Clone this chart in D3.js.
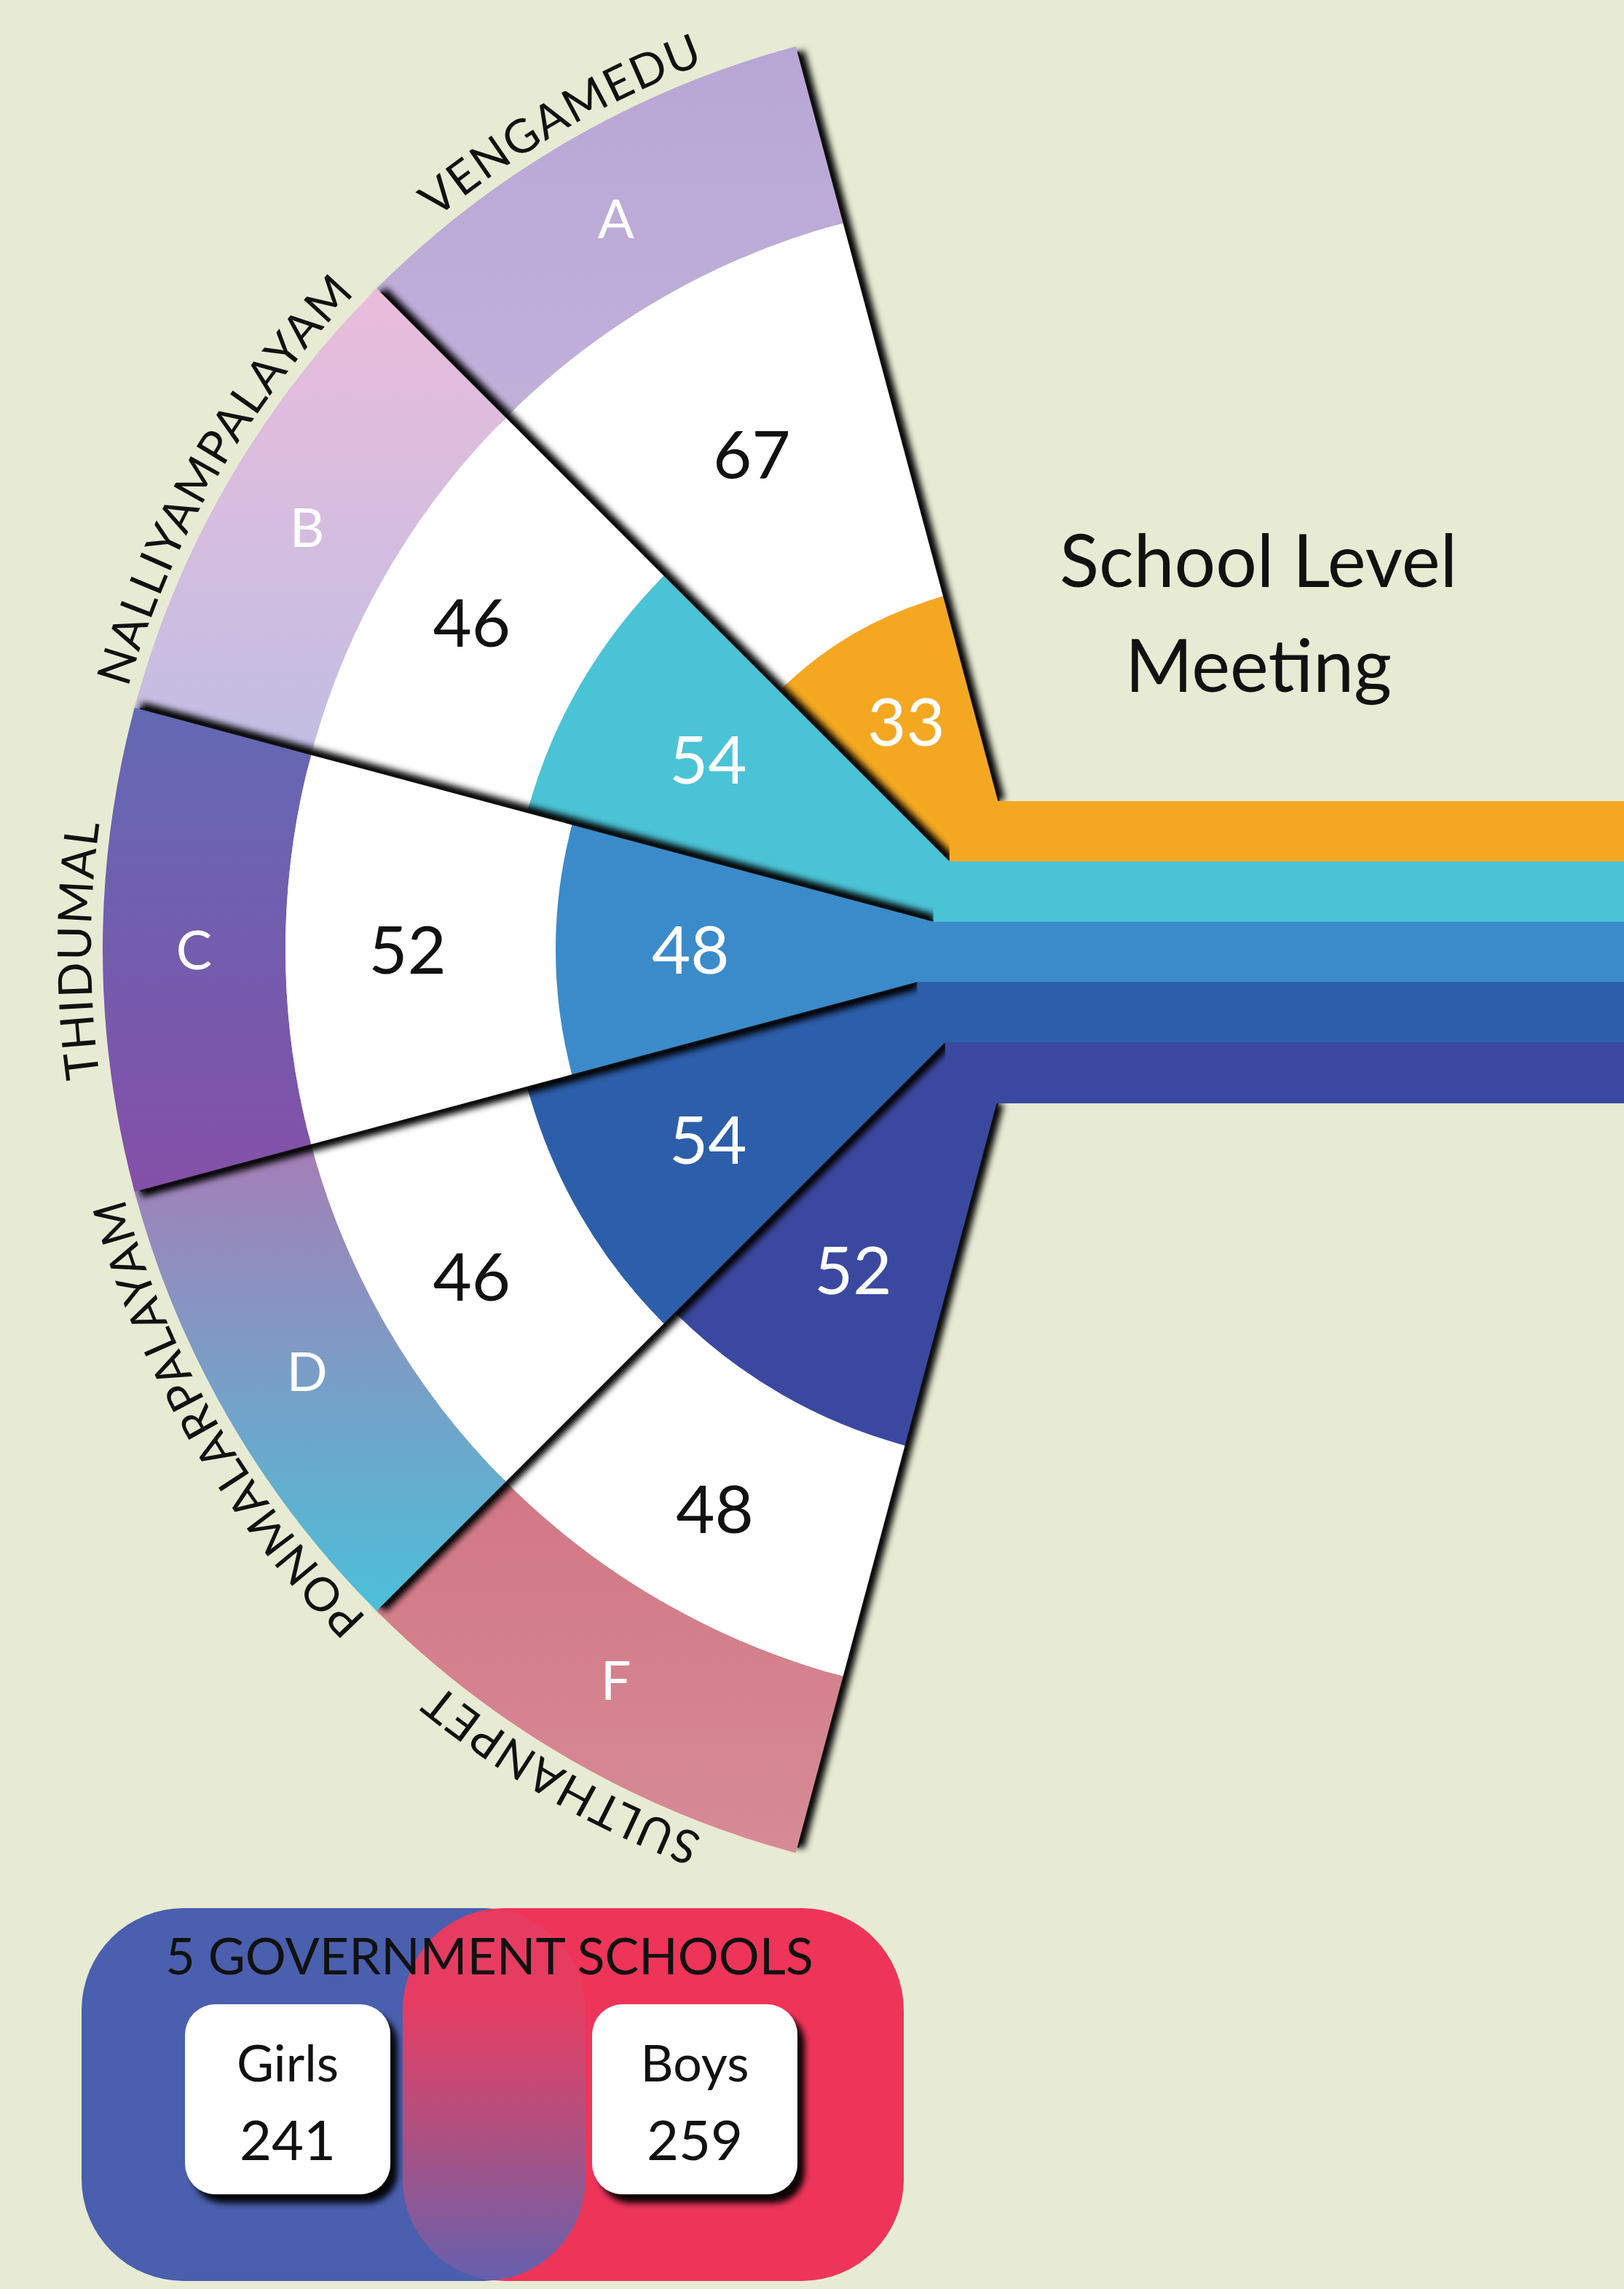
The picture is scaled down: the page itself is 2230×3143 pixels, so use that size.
<!DOCTYPE html>
<html>
<head>
<meta charset="utf-8">
<title>School Level Meeting</title>
<script src="https://d3js.org/d3.v7.min.js"></script>
<style>
  body { margin: 0; background: #e8ebd3; }
  svg { display: block; font-family: Lato, 'Open Sans', sans-serif; }
</style>
</head>
<body>
<svg id="viz"></svg>
<script>
// ---- data ----
var schools  = ["A", "B", "C", "D", "F"];
var villages = ["VENGAMEDU", "NALLIYAMPALAYAM", "THIDUMAL", "PONMALARPALAYAM", "SULTHANPET"];
var boys     = [67, 46, 52, 46, 48];   // white ring
var girls    = [33, 54, 48, 54, 52];   // coloured core + stripes
var totalLabels = ["Girls", "Boys"];
var totalValues = [241, 259];
var legendTitle = "5 GOVERNMENT SCHOOLS";
var titleLines  = ["School Level", "Meeting"];

// ---- colours ----
var background = "#e8ebd3";
var bandTop    = ["#b8a6d4", "#eabcdb", "#6369b4", "#a67eb6", "#d27786"];
var bandBottom = ["#c0b1db", "#c1bee3", "#8450a8", "#4bbfd8", "#d68b94"];
var coreColors = ["#f4a822", "#4bc3d6", "#3b8bca", "#2c5eaa", "#3b48a0"];

var W = 2230, H = 3143;
var cx = 1425, cy = 1304, R = 1284, rBand = 1033;
var deg = Math.PI / 180;

var svg = d3.select("#viz").attr("width", W).attr("height", H);
svg.append("rect").attr("width", W).attr("height", H).attr("fill", background);

var defs = svg.append("defs");
defs.append("filter").attr("id", "edgeBlur")
    .attr("filterUnits", "userSpaceOnUse")
    .attr("x", 0).attr("y", 0).attr("width", W).attr("height", H)
  .append("feGaussianBlur").attr("stdDeviation", 5);

var boxShadow = defs.append("filter").attr("id", "boxShadow")
    .attr("x", "-20%").attr("y", "-20%").attr("width", "150%").attr("height", "150%");
boxShadow.append("feDropShadow").attr("dx", 10).attr("dy", 12)
    .attr("stdDeviation", 4).attr("flood-color", "#000").attr("flood-opacity", 0.95);

schools.forEach(function(s, i) {
  var lg = defs.append("linearGradient").attr("id", "band" + i)
      .attr("x1", 0).attr("y1", 0).attr("x2", 0).attr("y2", 1);
  lg.append("stop").attr("offset", "0%").attr("stop-color", bandTop[i]);
  lg.append("stop").attr("offset", "100%").attr("stop-color", bandBottom[i]);
});

var lens = defs.append("linearGradient").attr("id", "lens")
    .attr("x1", 0).attr("y1", 0).attr("x2", 0).attr("y2", 1);
lens.append("stop").attr("offset", "25%").attr("stop-color", "#e63c62");
lens.append("stop").attr("offset", "60%").attr("stop-color", "#b0507f");
lens.append("stop").attr("offset", "100%").attr("stop-color", "#6660ae");

// ---- scales ----
var angle   = d3.scaleBand().domain(schools).range([345 * deg, 195 * deg]);
var coreR   = d3.scaleLinear().domain([33, 54]).range([502, 726]);
var stripeY = d3.scaleBand().domain(schools).range([1100, 1514]);

var rows = schools.map(function(s, i) {
  return {
    school: s, village: villages[i], boys: boys[i], girls: girls[i], i: i,
    a0: angle(s), a1: angle(s) + angle.bandwidth(),
    y0: stripeY(s), y1: stripeY(s) + stripeY.bandwidth()
  };
});

function edgeR(phi, y) { return (cy - y) / Math.cos(phi); }
function edgeX(phi, y) { return cx + edgeR(phi, y) * Math.sin(phi); }
function polar(r, phi) { return [cx + r * Math.sin(phi), cy - r * Math.cos(phi)]; }
var arc = d3.arc();

// ---- fan: wedges stacked so the middle one sits on top ----
var fan = svg.append("g");
["A", "F", "B", "D", "C"].forEach(function(s) {
  var d = rows[schools.indexOf(s)];
  var g = fan.append("g");

  // soft dark shadow along both straight edges, mostly hidden under the wedge itself
  [[d.a1, d.y0], [d.a0, d.y1]].forEach(function(e) {
    var p0 = polar(edgeR(e[0], e[1]), e[0]), p1 = polar(R - 8, e[0]);
    g.append("line")
      .attr("x1", p0[0]).attr("y1", p0[1]).attr("x2", p1[0]).attr("y2", p1[1])
      .attr("stroke", "#000").attr("stroke-width", 20)
      .attr("filter", "url(#edgeBlur)");
    g.append("line")
      .attr("x1", p0[0]).attr("y1", p0[1]).attr("x2", p1[0]).attr("y2", p1[1])
      .attr("stroke", "#111").attr("stroke-width", 5).attr("opacity", 0.85);
  });

  var w = g.append("g").attr("transform", "translate(" + cx + "," + cy + ")");
  w.append("path")
    .attr("d", arc({innerRadius: rBand, outerRadius: R, startAngle: d.a0, endAngle: d.a1}))
    .attr("fill", "url(#band" + d.i + ")");
  w.append("path")
    .attr("d", arc({innerRadius: coreR(d.girls), outerRadius: rBand, startAngle: d.a0, endAngle: d.a1}))
    .attr("fill", "#ffffff");
  w.append("path")
    .attr("d", arc({innerRadius: 0, outerRadius: coreR(d.girls), startAngle: d.a0, endAngle: d.a1}))
    .attr("fill", coreColors[d.i]);
});

// ---- stripes running out to the right ----
function stripeStart(d) { return Math.min(edgeX(d.a1, d.y0), edgeX(d.a0, d.y1)); }
svg.append("g").selectAll("rect")
  .data(rows)
  .join("rect")
    .attr("x", stripeStart)
    .attr("y", function(d) { return d.y0; })
    .attr("width", function(d) { return W - stripeStart(d); })
    .attr("height", function(d) { return d.y1 - d.y0 + 1; })
    .attr("fill", function(d) { return coreColors[d.i]; });

// ---- texts on the fan ----
var txt = svg.append("g");
rows.forEach(function(d) {
  var mid = (d.a0 + d.a1) / 2;

  var p = polar((rBand + R) / 2, mid);
  txt.append("text").attr("x", p[0]).attr("y", p[1]).attr("dy", "0.36em")
    .attr("text-anchor", "middle").attr("font-size", 74).attr("fill", "#ffffff")
    .text(d.school);

  p = polar((coreR(d.girls) + rBand) / 2 + 18, mid);
  txt.append("text").attr("x", p[0]).attr("y", p[1]).attr("dy", "0.36em")
    .attr("text-anchor", "middle").attr("font-size", 92).attr("fill", "#111111")
    .text(d.boys);

  p = polar(coreR(d.girls) * 0.72, mid);
  txt.append("text").attr("x", p[0]).attr("y", p[1]).attr("dy", "0.36em")
    .attr("text-anchor", "middle").attr("font-size", 92).attr("fill", "#ffffff")
    .text(d.girls);

  var lp = d3.path();
  lp.arc(cx, cy, R + 16, mid - 70 * deg - Math.PI / 2, mid + 70 * deg - Math.PI / 2);
  defs.append("path").attr("id", "lbl" + d.i).attr("d", lp.toString());
  txt.append("text").attr("font-size", 64).attr("fill", "#111111").attr("letter-spacing", 2)
    .append("textPath").attr("href", "#lbl" + d.i)
    .attr("startOffset", "50%").attr("text-anchor", "middle")
    .text(d.village);
});

// ---- title ----
svg.append("g").selectAll("text")
  .data(titleLines)
  .join("text")
    .attr("x", 1728)
    .attr("y", function(d, i) { return 806 + i * 144; })
    .attr("text-anchor", "middle").attr("font-size", 100).attr("fill", "#111111")
    .text(function(d) { return d; });

// ---- legend box ----
var lgX0 = 112, lgX1 = 1241, lgY0 = 2620, lgY1 = 3132, blueEnd = 804, redStart = 553, rr = 140;
var legend = svg.append("g");
defs.append("clipPath").attr("id", "blueClip")
  .append("rect").attr("x", lgX0).attr("y", lgY0).attr("width", blueEnd - lgX0)
  .attr("height", lgY1 - lgY0).attr("rx", rr);
legend.append("rect").attr("x", lgX0).attr("y", lgY0).attr("width", blueEnd - lgX0)
  .attr("height", lgY1 - lgY0).attr("rx", rr).attr("fill", "#4a5fae");
legend.append("rect").attr("x", redStart).attr("y", lgY0).attr("width", lgX1 - redStart)
  .attr("height", lgY1 - lgY0).attr("rx", rr).attr("fill", "#ee3459");
legend.append("rect").attr("x", redStart).attr("y", lgY0).attr("width", lgX1 - redStart)
  .attr("height", lgY1 - lgY0).attr("rx", rr).attr("fill", "url(#lens)")
  .attr("clip-path", "url(#blueClip)");

legend.append("text").attr("x", 672).attr("y", 2711).attr("text-anchor", "middle")
  .attr("font-size", 70).attr("fill", "#111111").text(legendTitle);

var boxX = d3.scaleOrdinal().domain(totalLabels).range([254, 813]);
var boxes = legend.selectAll("g.box")
  .data(totalLabels.map(function(l, i) { return {label: l, value: totalValues[i]}; }))
  .join("g").attr("class", "box")
  .attr("transform", function(d) { return "translate(" + boxX(d.label) + ",2752)"; });
boxes.append("rect").attr("width", 282).attr("height", 261).attr("rx", 42)
  .attr("fill", "#ffffff").attr("filter", "url(#boxShadow)");
boxes.append("text").attr("x", 141).attr("y", 106).attr("text-anchor", "middle")
  .attr("font-size", 70).attr("fill", "#111111").text(function(d) { return d.label; });
boxes.append("text").attr("x", 141).attr("y", 214).attr("text-anchor", "middle")
  .attr("font-size", 76).attr("fill", "#111111").text(function(d) { return d.value; });
</script>
</body>
</html>
